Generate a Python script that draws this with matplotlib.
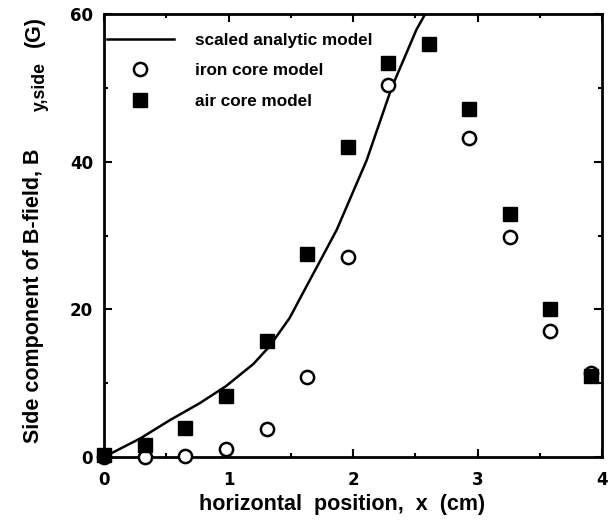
import numpy as np
import matplotlib
matplotlib.use('Agg')
import matplotlib.pyplot as plt
from matplotlib.ticker import MultipleLocator

plt.rcParams['font.family'] = ['Liberation Sans', 'DejaVu Sans']
plt.rcParams['font.weight'] = 'bold'

# sample positions (cm)
x_pos = [0.0, 0.33, 0.65, 0.98, 1.31, 1.63, 1.96, 2.28, 2.61, 2.93, 3.26, 3.58, 3.91]

# air core model (filled squares)
air_core = [0.3, 1.6, 3.9, 8.3, 15.7, 27.5, 42.0, 53.4, 56.0, 47.2, 32.9, 20.0, 11.0]

# iron core model (open circles), no visible point at x=2.61
iron_x = [0.0, 0.33, 0.65, 0.98, 1.31, 1.63, 1.96, 2.28, 2.93, 3.26, 3.58, 3.91]
iron_core = [0.0, 0.0, 0.1, 1.1, 3.8, 10.8, 27.1, 50.4, 43.2, 29.8, 17.1, 11.4]

# scaled analytic model curve
analytic_x = [0.0, 0.29, 0.53, 0.77, 0.98, 1.20, 1.33, 1.49, 1.61, 1.75, 1.87, 2.11, 2.31, 2.51, 2.58, 2.62]
analytic_y = [0.0, 2.5, 5.0, 7.3, 9.6, 12.6, 15.0, 18.8, 22.6, 27.0, 30.8, 40.2, 50.0, 57.9, 60.0, 61.5]

W, H = 609, 523
fig = plt.figure(figsize=(W / 100, H / 100), dpi=100)
ax = fig.add_axes([104 / W, 1 - 457 / H, 498 / W, 443 / H])

ax.plot(analytic_x, analytic_y, color='black', lw=1.8, label='scaled analytic model')
ax.plot(iron_x, iron_core, 'o', ms=9.5, mfc='white', mec='black', mew=1.8,
        clip_on=False, label='iron core model', zorder=3)
ax.plot(x_pos, air_core, 's', ms=10, color='black', clip_on=False,
        label='air core model', zorder=4)

ax.set_xlim(0, 4)
ax.set_ylim(0, 60)
ax.xaxis.set_major_locator(MultipleLocator(1))
ax.xaxis.set_minor_locator(MultipleLocator(0.5))
ax.yaxis.set_major_locator(MultipleLocator(20))
ax.yaxis.set_minor_locator(MultipleLocator(10))
ax.tick_params(which='both', direction='in', top=True, right=True, width=1.5)
ax.tick_params(which='major', length=6)
ax.tick_params(which='minor', length=3)
ax.tick_params(axis='x', pad=10)
ax.tick_params(axis='y', pad=8)
for lab in ax.get_xticklabels() + ax.get_yticklabels():
    lab.set_fontfamily('DejaVu Sans')
    lab.set_fontweight('bold')
    lab.set_fontsize(12)
for sp in ax.spines.values():
    sp.set_linewidth(2)

ax.set_xlabel('horizontal  position,  x  (cm)', fontsize=15.5, fontweight='bold')
ax.xaxis.set_label_coords((342 - 104) / 498, -0.083)

# y label: main text, subscript and unit placed as separate pieces
fig.text(39 / W, 1 - 443 / H, 'Side component of B-field, B', rotation=90,
         rotation_mode='anchor', ha='left', va='baseline', fontsize=15.5, fontweight='bold')
fig.text(45 / W, 1 - 111 / H, 'y,side', rotation=90,
         rotation_mode='anchor', ha='left', va='baseline', fontsize=12.7, fontweight='bold')
fig.text(40 / W, 1 - 47 / H, '(G)', rotation=90,
         rotation_mode='anchor', ha='left', va='baseline', fontsize=15.5, fontweight='bold')

ax.legend(loc='upper left', bbox_to_anchor=(0.006, 0.958), frameon=False, fontsize=12.3,
          handlelength=3.9, handletextpad=1.25, labelspacing=0.92, borderaxespad=0,
          borderpad=0)

fig.savefig('out.png', dpi=100)
